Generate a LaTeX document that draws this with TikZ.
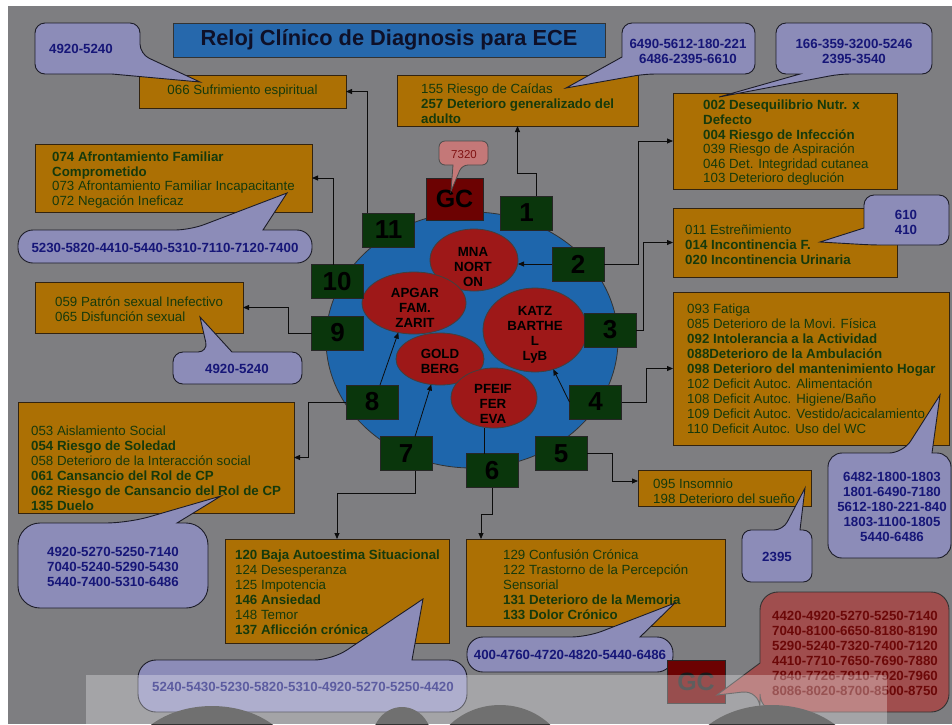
\documentclass[tikz,border=0pt]{standalone}
\usepackage{fontspec}
\setmainfont{Liberation Sans}
\usetikzlibrary{arrows.meta,shapes.geometric}
\definecolor{bg}{RGB}{126,126,129}
\definecolor{orangefill}{RGB}{172,112,4}
\definecolor{boxline}{RGB}{50,35,15}
\definecolor{txtgreen}{RGB}{22,58,12}
\definecolor{titlefill}{RGB}{38,104,172}
\definecolor{titletext}{RGB}{14,16,40}
\definecolor{callfill}{RGB}{140,140,184}
\definecolor{callline}{RGB}{28,28,40}
\definecolor{calltext}{RGB}{22,22,120}
\definecolor{bigblue}{RGB}{30,102,172}
\definecolor{redell}{RGB}{158,24,24}
\definecolor{sqgreen}{RGB}{10,54,12}
\definecolor{gcred}{RGB}{108,2,2}
\definecolor{pinkfill}{RGB}{196,120,120}
\definecolor{pinktext}{RGB}{128,18,18}
\definecolor{redcall}{RGB}{160,78,78}
\definecolor{redcalltext}{RGB}{108,8,8}
\definecolor{connc}{RGB}{12,12,12}
\tikzset{
  obox/.style={draw=boxline, fill=orangefill, line width=0.9pt, inner sep=0pt, outer sep=0pt, anchor=north west},
  btxt/.style={font=\fontsize{13.3}{15}\selectfont, text=txtgreen, align=left, anchor=west, inner sep=0pt},
  sq/.style={draw=black!85, fill=sqgreen, line width=0.8pt, minimum width=52pt, minimum height=34pt, inner sep=0pt, outer sep=0pt, font=\fontsize{26}{26}\selectfont\bfseries, text=black},
  ell/.style={ellipse, draw=black!75, fill=redell, line width=0.8pt, inner sep=0pt, outer sep=0pt},
  etxt/.style={font=\fontsize{13.3}{15}\selectfont\bfseries, align=center, text=black, inner sep=0pt},
  callout/.style={draw=callline, fill=callfill, line width=0.9pt},
  ctxt/.style={font=\fontsize{13.3}{15}\selectfont\bfseries, text=calltext, align=center, inner sep=0pt},
  conn/.style={draw=connc, line width=0.8pt},
  arr/.style={conn, -{Triangle[length=6pt,width=5pt]}}
}
\begin{document}
\begin{tikzpicture}[x=1pt,y=-1pt]
\useasboundingbox (0,0) rectangle (952,724);
\fill[white] (0,0) rectangle (952,724);
\fill[bg] (8,6) rectangle (952,724);

% title
\node[draw=black!80, fill=titlefill, line width=0.9pt, minimum width=432pt, minimum height=34pt, inner sep=0pt, font=\fontsize{21.8}{22}\selectfont\bfseries, text=titletext] (title) at (389,40) {Reloj Clínico de Diagnosis para ECE};

% clock
\node[ellipse, draw=black!80, fill=bigblue, line width=0.8pt, minimum width=292pt, minimum height=256pt, inner sep=0pt] (clock) at (472,340) {};
\node[ell, minimum width=88pt, minimum height=62pt] (mna) at (474,260) {};
\node[ell, minimum width=104pt, minimum height=62pt] (apgar) at (414,303) {};
\node[ell, minimum width=104pt, minimum height=84pt] (katz) at (535,330) {};
\node[ell, minimum width=88pt, minimum height=52pt] (gold) at (440,359) {};
\node[ell, minimum width=86pt, minimum height=60pt] (pfeif) at (494,398) {};
\node[etxt] (tmna) at (473,267) {MNA\\NORT\\ON};
\node[etxt] (tapgar) at (415,308) {APGAR\\FAM.\\ZARIT};
\node[etxt] (tkatz) at (535,335) {KATZ\\BARTHE\\L\\LyB};
\node[etxt] (tgold) at (440,361) {GOLD\\BERG};
\node[etxt] (tpfeif) at (493,404) {PFEIF\\FER\\EVA};

% squares
\node[sq] (n1) at (526.5,213) {1};
\node[sq] (n11) at (388.5,230) {11};
\node[sq] (n2) at (578,264) {2};
\node[sq] (n10) at (337,281.5) {10};
\node[sq] (n3) at (610,330) {3};
\node[sq] (n9) at (337.5,333) {9};
\node[sq] (n8) at (372,402) {8};
\node[sq] (n4) at (595.5,402) {4};
\node[sq] (n7) at (406,453.5) {7};
\node[sq] (n6) at (492,470.5) {6};
\node[sq] (n5) at (561,453.5) {5};
\node[draw=black!85, fill=gcred, line width=0.8pt, minimum width=57pt, minimum height=42pt, inner sep=0pt, font=\fontsize{25}{25}\selectfont\bfseries, text=black] (gc) at (454.5,199) {GC};

% boxes
\node[obox, minimum width=207pt, minimum height=33pt] (b066) at (139,75) {};
\node[obox, minimum width=241pt, minimum height=51pt] (b155) at (397,75) {};
\node[obox, minimum width=224pt, minimum height=96pt] (b002) at (673,93) {};
\node[obox, minimum width=224pt, minimum height=69pt] (b011) at (673,208) {};
\node[obox, minimum width=276pt, minimum height=153pt] (b093) at (673,292) {};
\node[obox, minimum width=173pt, minimum height=36pt] (b095) at (638,470) {};
\node[obox, minimum width=259pt, minimum height=87pt] (b129) at (466,539) {};
\node[obox, minimum width=224pt, minimum height=104pt] (b120) at (225,539) {};
\node[obox, minimum width=276pt, minimum height=111pt] (b053) at (18,402) {};
\node[obox, minimum width=208pt, minimum height=51pt] (b059) at (35,282) {};
\node[obox, minimum width=277pt, minimum height=68pt] (b074) at (35,144) {};

\node[btxt, anchor=center] (t066) at (b066.center) {066 Sufrimiento espiritual};
\node[btxt] (t155) at (421,104) {155 Riesgo de Caídas\\\textbf{257 Deterioro generalizado del}\\\textbf{adulto}};
\node[btxt, font=\fontsize{13.3}{14.6}\selectfont] (t002) at (703,143) {\textbf{002 Desequilibrio Nutr. x}\\\textbf{Defecto}\\\textbf{004 Riesgo de Infección}\\039 Riesgo de Aspiración\\046 Det. Integridad cutanea\\103 Deterioro deglución};
\node[btxt] (t011) at (685,245) {011 Estreñimiento\\\textbf{014 Incontinencia F.}\\\textbf{020 Incontinencia Urinaria}};
\node[btxt] (t093) at (687,369) {093 Fatiga\\085 Deterioro de la Movi. Física\\\textbf{092 Intolerancia a la Actividad}\\\textbf{088Deterioro de la Ambulación}\\\textbf{098 Deterioro del mantenimiento Hogar}\\102 Deficit Autoc. Alimentación\\108 Deficit Autoc. Higiene/Baño\\109 Deficit Autoc. Vestido/acicalamiento\\110 Deficit Autoc. Uso del WC};
\node[btxt] (t095) at (653,491) {095 Insomnio\\198 Deterioro del sueño};
\node[btxt] (t129) at (503,585) {129 Confusión Crónica\\122 Trastorno de la Percepción\\Sensorial\\\textbf{131 Deterioro de la Memoria}\\\textbf{133 Dolor Crónico}};
\node[btxt] (t120) at (235,592) {\textbf{120 Baja Autoestima Situacional}\\124 Desesperanza\\125 Impotencia\\\textbf{146 Ansiedad}\\148 Temor\\\textbf{137 Aflicción crónica}};
\node[btxt] (t053) at (31,468) {053 Aislamiento Social\\\textbf{054 Riesgo de Soledad}\\058 Deterioro de la Interacción social\\\textbf{061 Cansancio del Rol de CP}\\\textbf{062 Riesgo de Cansancio del Rol de CP}\\\textbf{135 Duelo}};
\node[btxt] (t059) at (55,309) {059 Patrón sexual Inefectivo\\065 Disfunción sexual};
\node[btxt, font=\fontsize{13.3}{14.6}\selectfont] (t074) at (52,180) {\textbf{074 Afrontamiento Familiar}\\\textbf{Comprometido}\\073 Afrontamiento Familiar Incapacitante\\072 Negación Ineficaz};

% connectors
\draw[arr] ([xshift=5pt]n11.north west) |- (b066.east);
\draw[arr] ([xshift=10pt]n1.north) -- ++(0,-23) -| (b155.south);
\draw[arr] (n2.east) -| (638,141) -- (b002.west);
\draw[arr] (n2.west) -- (n2.west -| mna.east);
\draw[arr] (n3.east) -| (643,242.5) -- (b011.west);
\draw[arr] (n4.east) -| (646,368.5) -- (b093.west);
\draw[arr] (n4.west) -- (katz.295);
\draw[arr] (n5.east) -| (612,481) -- ([yshift=7pt]b095.west);
\draw[arr] (n6.south) -- ++(0,27) -| ([xshift=15pt]b129.north west);
\draw[conn] ([xshift=-8pt]n6.north) -- ([xshift=-8pt]n6.north |- pfeif.south);
\draw[arr] ([xshift=9pt]n7.south) -- ++(0,23) -| (b120.north);
\draw[arr] ([xshift=9pt]n7.north) -- (gold.251);
\draw[arr] (n8.west) -| (308,457.5) -- (b053.east);
\draw[arr] ([xshift=8pt]n8.north) -- (apgar.242);
\draw[arr] (n9.west) -| (288,307.5) -- (b059.east);
\draw[arr] ([xshift=-4pt]n10.north) |- (b074.east);

% callouts
\filldraw[callout] (35,23) [rounded corners=10pt] -- (140,23) -- (140,54) [sharp corners] -- (200,82) -- (112,74) [rounded corners=10pt] -- (35,74) -- cycle;
\node[ctxt] (c1) at (81,49) {4920-5240};
\filldraw[callout] (622,23) [rounded corners=10pt] -- (755,23) -- (755,74) -- (645,74) [sharp corners] -- (566,88) -- (622,57) [rounded corners=10pt] -- cycle;
\node[ctxt] (c2) at (688,51) {6490-5612-180-221\\6486-2395-6610};
\filldraw[callout] (776,23) [rounded corners=10pt] -- (932,23) -- (932,74) -- (840,74) [sharp corners] -- (719,97) -- (800,74) [rounded corners=10pt] -- (776,74) -- cycle;
\node[ctxt] (c3) at (854,51) {166-359-3200-5246\\2395-3540};
\filldraw[callout] (864,195) [rounded corners=10pt] -- (949,195) -- (949,245) -- (872,245) [sharp corners] -- (820,242) -- (864,228) [rounded corners=10pt] -- cycle;
\node[ctxt] (c4) at (906,222) {610\\410};
\filldraw[callout] (828,453) [rounded corners=14pt] -- (903,453) [sharp corners] -- (940,395) -- (932,453) [rounded corners=14pt] -- (951,453) -- (951,558) -- (828,558) -- cycle;
\node[ctxt] (c5) at (892,507) {6482-1800-1803\\1801-6490-7180\\5612-180-221-840\\1803-1100-1805\\5440-6486};
\filldraw[callout] (742,530) [rounded corners=9pt] -- (783,530) [sharp corners] -- (805,488) -- (800,530) [rounded corners=9pt] -- (812,530) -- (812,582) -- (742,582) -- cycle;
\node[ctxt] (c6) at (777,557) {2395};
\filldraw[callout] (467,637) [rounded corners=16pt] -- (587,637) [sharp corners] -- (675,603) -- (640,637) [rounded corners=16pt] -- (673,637) -- (673,672) -- (467,672) -- cycle;
\node[ctxt] (c7) at (570,655) {400-4760-4720-4820-5440-6486};
\filldraw[callout] (18,523) [rounded corners=22pt] -- (128,523) [sharp corners] -- (221,496) -- (177,523) [rounded corners=22pt] -- (208,523) -- (208,608) -- (18,608) -- cycle;
\node[ctxt] (c9) at (113,567) {4920-5270-5250-7140\\7040-5240-5290-5430\\5440-7400-5310-6486};
\filldraw[callout] (173,352) [rounded corners=10pt] -- (208,352) [sharp corners] -- (200,317) -- (232,352) [rounded corners=10pt] -- (302,352) -- (302,384) -- (173,384) -- cycle;
\node[ctxt] (c10) at (237,369) {4920-5240};
\filldraw[callout] (18,230) [rounded corners=15pt] -- (190,230) [sharp corners] -- (287,193) -- (263,230) [rounded corners=15pt] -- (312,230) -- (312,263) -- (18,263) -- cycle;
\node[ctxt] (c11) at (165,248) {5230-5820-4410-5440-5310-7110-7120-7400};
\filldraw[draw=black!70, fill=pinkfill, line width=0.8pt] (439,141) [rounded corners=6pt] -- (488,141) -- (488,165) -- (462,165) [sharp corners] -- (451,191) -- (453,165) [rounded corners=6pt] -- (439,165) -- cycle;
\node[font=\fontsize{11.5}{12}\selectfont, text=pinktext, inner sep=0pt] (c12) at (464,155) {7320};

% bottom GC and red callout
\node[draw=black!85, fill=gcred, line width=0.8pt, minimum width=58pt, minimum height=43pt, inner sep=0pt, font=\fontsize{25}{25}\selectfont\bfseries, text=black!90] (gc2) at (696,681.5) {GC};
\filldraw[draw=black!80, fill=redcall, line width=0.9pt] (760,592) [rounded corners=18pt] -- (949,592) -- (949,712) -- (760,712) -- (760,690) [sharp corners] -- (717,695) -- (760,663) [rounded corners=18pt] -- cycle;
\node[font=\fontsize{13.3}{15}\selectfont\bfseries, text=redcalltext, align=center, inner sep=0pt] (c13) at (855,653) {4420-4920-5270-5250-7140\\7040-8100-6650-8180-8190\\5290-5240-7320-7400-7120\\4410-7710-7650-7690-7880\\7840-7726-7910-7920-7960\\8086-8020-8700-8500-8750};

\filldraw[callout] (138,660) [rounded corners=18pt] -- (332,660) [sharp corners] -- (423,599) -- (412,660) [rounded corners=18pt] -- (467,660) -- (467,712) -- (138,712) -- cycle;
\node[ctxt] (c8) at (303,687) {5240-5430-5230-5820-5310-4920-5270-5250-4420};

% dark shapes at the bottom
\fill[black!80] (212,768) ellipse [x radius=85pt, y radius=62pt];
\fill[black!80] (402,740) ellipse [x radius=30pt, y radius=33pt];
\fill[black!80] (500,770) ellipse [x radius=70pt, y radius=65pt];
\fill[black!80] (772,770) ellipse [x radius=88pt, y radius=65pt];
% light strip
\fill[white, opacity=0.3] (86,675) rectangle (887,724);
\end{tikzpicture}
\end{document}
